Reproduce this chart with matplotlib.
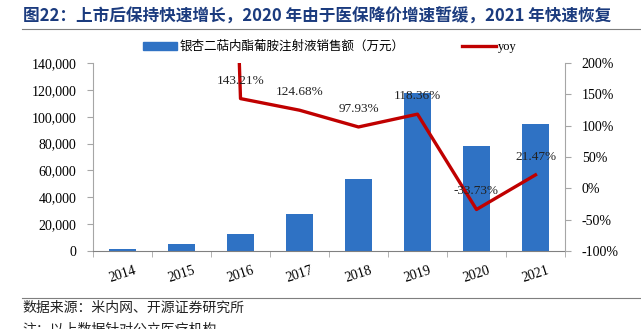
import numpy as np
import matplotlib
matplotlib.use("Agg")
import matplotlib.pyplot as plt
from matplotlib.ticker import FuncFormatter, MultipleLocator
from matplotlib.patches import Patch
from matplotlib.lines import Line2D

plt.rcParams['font.family'] = ['Liberation Serif', 'Noto Sans CJK SC']

years = ['2014', '2015', '2016', '2017', '2018', '2019', '2020', '2021']
sales = [1600, 5400, 12600, 27400, 53800, 117500, 77900, 94600]  # 万元
yoy = [np.nan, 3000.0, 143.21, 124.68, 97.93, 118.36, -33.73, 21.47]  # %
yoy_labels = ['', '', '143.21%', '124.68%', '97.93%', '118.36%', '-33.73%', '21.47%']

blue = '#2F72C4'
red = '#C00000'
grey = '#A6A6A6'

fig = plt.figure(figsize=(6.41, 3.29), dpi=100)
ax = fig.add_axes([93 / 641, 1 - 251 / 329, 472 / 641, 188 / 329])
x = np.arange(len(years))

ax.bar(x, sales, width=0.45, color=blue, zorder=2)
ax.set_xlim(-0.5, len(years) - 0.5)
ax.set_ylim(0, 140000)
ax.yaxis.set_major_locator(MultipleLocator(20000))
ax.yaxis.set_major_formatter(FuncFormatter(lambda v, p: f'{int(v):,}'))
ax.set_xticks(x)
ax.set_xticklabels(years, rotation=18, fontsize=10)
ax.set_xticks(np.arange(-0.5, len(years), 1), minor=True)
ax.tick_params(axis='x', which='major', length=0, pad=9)
ax.tick_params(axis='x', which='minor', length=4, color=grey)
ax.tick_params(axis='y', length=4, color=grey, labelsize=10, pad=8)
for s in ['top', 'right']:
    ax.spines[s].set_visible(False)
ax.spines['left'].set_color(grey)
ax.spines['bottom'].set_color('#808080')

ax2 = ax.twinx()
ax2.plot(x, yoy, color=red, lw=2.4, zorder=3)
ax2.set_ylim(-100, 200)
ax2.yaxis.set_major_locator(MultipleLocator(50))
ax2.yaxis.set_major_formatter(FuncFormatter(lambda v, p: f'{int(v)}%'))
ax2.tick_params(axis='y', length=4, color=grey, labelsize=10, pad=8)
for s in ['top', 'left', 'bottom']:
    ax2.spines[s].set_visible(False)
ax2.spines['right'].set_color(grey)
for xi, v, lab in zip(x, yoy, yoy_labels):
    if lab:
        ax2.annotate(lab, (xi, v), xytext=(0, 13), textcoords='offset points',
                     ha='center', va='center', fontsize=9.5, color='#222222')

handles = [Patch(color=blue), Line2D([], [], color=red, lw=2.4)]
fig.legend(handles, ['银杏二萜内酯葡胺注射液销售额（万元）', 'yoy'],
           loc='center', bbox_to_anchor=(330 / 641, 1 - 47 / 329), ncol=2,
           frameon=False, handlelength=2.7, handleheight=0.6,
           handletextpad=0.2, columnspacing=4.6,
           prop={'family': ['Liberation Serif', 'Noto Sans CJK SC'], 'size': 9})

fig.text(23 / 641, 1 - 17 / 329,
         '图22：上市后保持快速增长，2020 年由于医保降价增速暂缓，2021 年快速恢复',
         fontsize=12, fontweight='bold', color='#1B3B7E', va='center',
         family=['Noto Sans CJK SC'])
fig.add_artist(Line2D([22 / 641, 1], [1 - 28.5 / 329] * 2, color='#7F7F7F', lw=0.8))
fig.add_artist(Line2D([22 / 641, 1], [1 - 298 / 329] * 2, color='#7F7F7F', lw=0.8))
fig.text(22 / 641, 1 - 308 / 329, '数据来源：米内网、开源证券研究所', fontsize=10,
         va='center', color='#222222', family=['Noto Sans CJK SC'])
fig.text(22 / 641, 1 - 330 / 329, '注：以上数据针对公立医疗机构', fontsize=10,
         va='center', color='#222222', family=['Noto Sans CJK SC'])

fig.savefig('out.png', dpi=100)
